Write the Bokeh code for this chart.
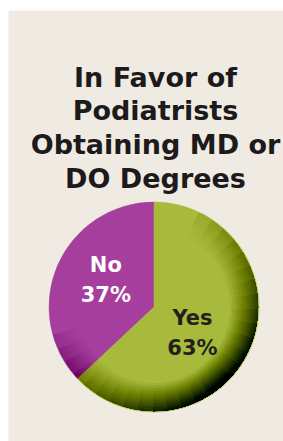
import numpy as np
from bokeh.plotting import figure
from bokeh.models import Range1d, ColumnDataSource
from bokeh.embed import file_html
from bokeh.resources import INLINE
from bokeh.core.properties import value

# ---- data ----
categories = ["No", "Yes"]
percent = [37, 63]
slice_colors = ["#a53e9c", "#a8ba3b"]
label_colors = ["#ffffff", "#231f20"]
title_lines = ["In Favor of", "Podiatrists", "Obtaining MD or", "DO Degrees"]

# ---- layout ----
W, H = 283, 441
BG = "#efebe2"
FONT = value("DejaVu Sans")

p = figure(width=W, height=H, x_range=Range1d(0, W), y_range=Range1d(0, H),
           output_backend="svg", toolbar_location=None, min_border=0,
           x_axis_location=None, y_axis_location=None)
p.grid.visible = False
p.outline_line_color = None
p.background_fill_color = "#ffffff"
p.border_fill_color = "#ffffff"

def fy(py):
    return H - py

# panel
p.quad(left=8, right=W, top=fy(10), bottom=0, fill_color=BG, line_color=None)

# title
baselines = [77, 110, 143.5, 178]
p.text(x=[155] * len(title_lines), y=[fy(b) for b in baselines], text=title_lines,
       text_align="center", text_baseline="alphabetic", text_font=FONT,
       text_font_style="bold", text_font_size="27px", text_color="#1c1a1a")

# pie
cx, cy, R = 153.5, fy(306.5), 105
vals = np.array(percent, dtype=float)
frac = vals / vals.sum()
cum = np.concatenate([[0], np.cumsum(frac)])
start = np.pi / 2 + 2 * np.pi * cum[:-1]
end = np.pi / 2 + 2 * np.pi * cum[1:]
src = ColumnDataSource(dict(cat=categories, start=start, end=end, color=slice_colors))
p.wedge(x=cx, y=cy, radius=R, start_angle="start", end_angle="end",
        fill_color="color", line_color="color", line_width=0.5, source=src)

# shading overlay (style only): nested low-alpha annular wedges
def shade(center_deg, max_half, r_lo, n_r, n_a, color, alpha, ex):
    ri, a0, a1 = [], [], []
    for i in range(n_r):
        r_in = R * (r_lo + (1 - r_lo) * (i / n_r) ** ex)
        for j in range(n_a):
            w = np.radians(max_half) * (j + 1) / n_a
            c = np.radians(center_deg)
            ri.append(r_in); a0.append(c - w); a1.append(c + w)
    s = ColumnDataSource(dict(ri=ri, a0=a0, a1=a1))
    p.annular_wedge(x=cx, y=cy, inner_radius="ri", outer_radius=R, start_angle="a0",
                    end_angle="a1", fill_color=color, fill_alpha=alpha, line_color=None, source=s)

shade(-50, 115, 0.72, 16, 14, "#1a2006", 0.0028, 0.9)
shade(125, 70, 0.6, 10, 10, "#ffffff", 0.0025, 0.9)

# labels
mid = 0.5 * (start + end)
lr = np.array([0.50, 0.44]) * R
lx = cx + lr * np.cos(mid) + np.array([0, -4])
ly = cy + lr * np.sin(mid) + np.array([7, -7])
pct_text = [f"{v}%" for v in percent]
p.text(x=lx, y=ly + 14, text=categories, text_align="center", text_baseline="alphabetic",
       text_font=FONT, text_font_style="bold", text_font_size="21px", text_color=label_colors)
p.text(x=lx, y=ly - 16, text=pct_text, text_align="center", text_baseline="alphabetic",
       text_font=FONT, text_font_style="bold", text_font_size="21px", text_color=label_colors)

open("out.html", "w").write(file_html(p, INLINE))
